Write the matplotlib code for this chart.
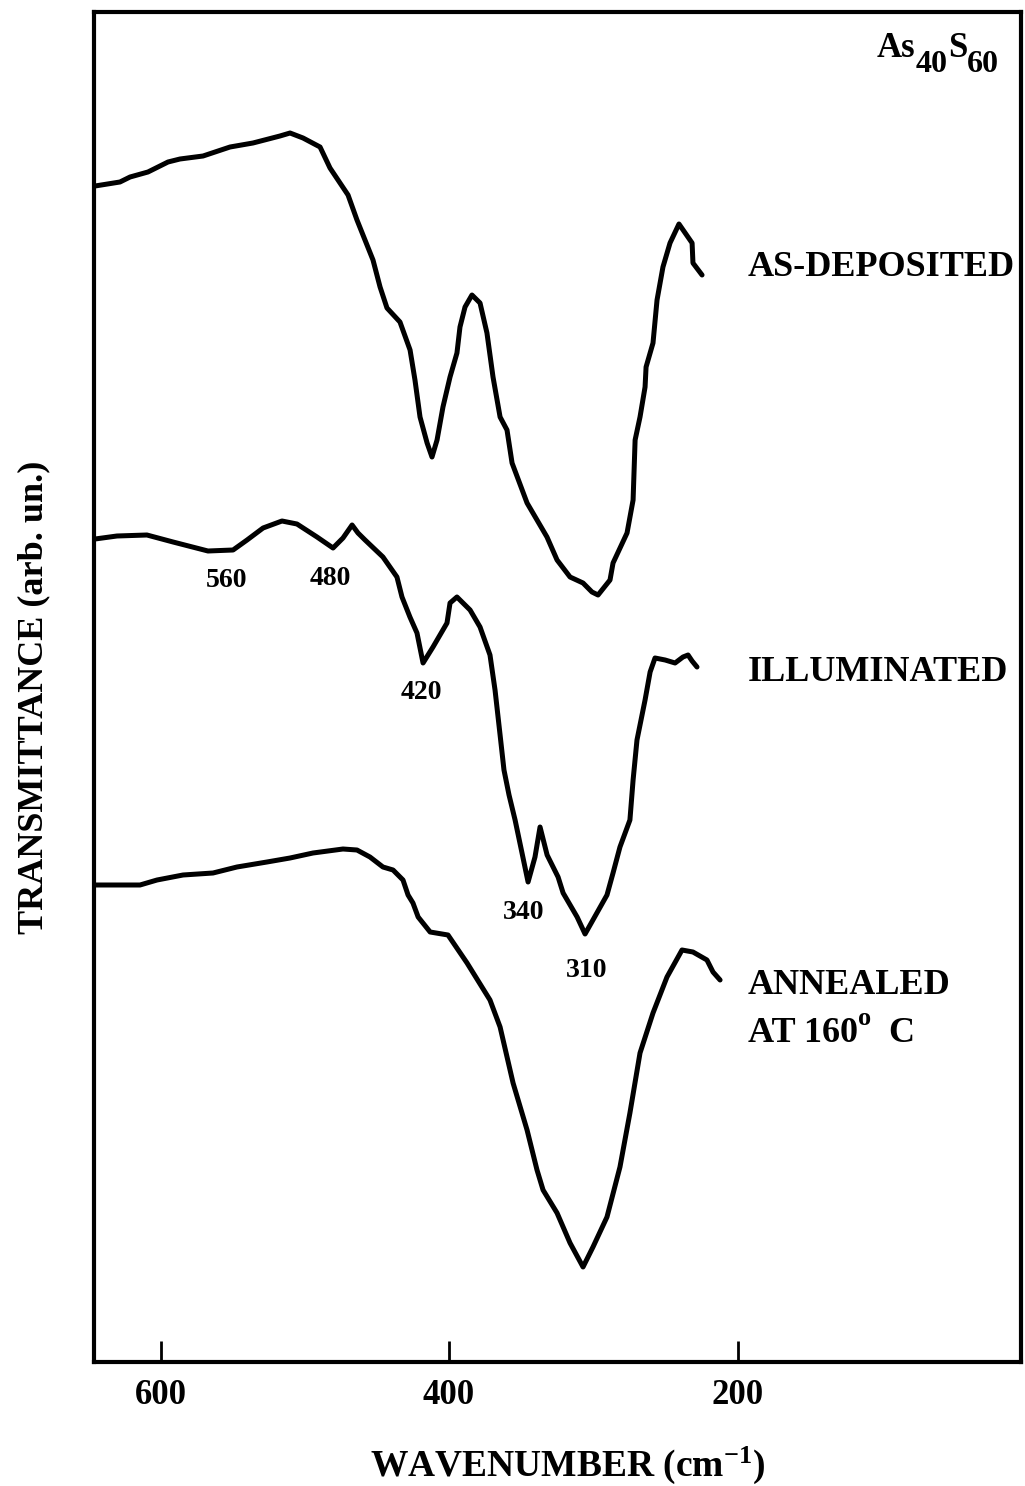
import matplotlib
matplotlib.use("Agg")
import matplotlib.pyplot as plt

plt.rcParams["font.family"] = ["Liberation Serif", "DejaVu Serif"]
plt.rcParams["font.weight"] = "bold"
plt.rcParams["mathtext.fontset"] = "custom"
plt.rcParams["mathtext.rm"] = "Liberation Serif:bold"
plt.rcParams["mathtext.bf"] = "Liberation Serif:bold"
plt.rcParams["mathtext.it"] = "Liberation Serif:bold"

# IR transmittance spectra of As40S60 films (wavenumber in cm^-1, transmittance in arb. units)
as_dep_wn = [645.4, 628.1, 621.1, 608.7, 594.8, 586.5, 570.5, 551.8, 535.9, 517.2,
             510.2, 501.2, 489.4, 482.5, 470.0, 463.8, 452.7, 447.8, 443.0, 434.0,
             427.0, 423.6, 420.1, 415.2, 411.8, 408.3, 404.2, 399.3, 394.5, 392.4,
             388.9, 384.1, 378.5, 373.7, 369.5, 364.6, 359.8, 356.3, 345.9, 332.1,
             325.1, 316.1, 307.1, 300.9, 296.7, 288.4, 286.3, 276.6, 272.4, 271.0,
             267.6, 264.1, 263.4, 258.6, 255.8, 251.7, 246.8, 240.6, 231.5, 230.9,
             224.6]
as_dep_t = [117.6, 118.0, 118.5, 119.0, 120.0, 120.3, 120.6, 121.5, 121.9, 122.6,
            122.9, 122.4, 121.5, 119.4, 116.7, 114.2, 110.2, 107.5, 105.4, 104.0,
            101.2, 98.2, 94.5, 91.9, 90.5, 92.2, 95.5, 98.5, 100.9, 103.5,
            105.5, 106.7, 105.9, 102.9, 98.5, 94.5, 93.2, 89.9, 85.9, 82.5,
            80.2, 78.5, 77.9, 77.0, 76.7, 78.2, 79.9, 82.9, 86.2, 92.2,
            94.5, 97.5, 99.5, 101.9, 106.2, 109.5, 111.9, 113.8, 111.9, 109.9,
            108.7]

illum_wn = [645.4, 630.2, 609.4, 591.3, 567.1, 549.7, 540.0, 528.9, 515.8, 505.4,
            491.5, 480.4, 473.5, 467.2, 463.1, 458.2, 445.8, 436.1, 432.6, 427.1,
            422.2, 418.0, 411.1, 401.4, 399.3, 394.5, 385.4, 378.5, 371.6, 368.1,
            364.6, 361.9, 358.4, 354.2, 349.4, 345.2, 340.4, 336.9, 332.0, 324.4,
            320.9, 311.2, 305.7, 290.5, 286.3, 281.5, 274.6, 272.4, 269.7, 264.1,
            260.6, 257.2, 250.2, 243.3, 237.8, 234.3, 231.5, 228.1]
illum_t = [82.3, 82.6, 82.7, 82.0, 81.1, 81.2, 82.2, 83.4, 84.1, 83.8,
           82.5, 81.4, 82.4, 83.7, 82.9, 82.2, 80.5, 78.5, 76.5, 74.5,
           72.9, 69.9, 71.5, 73.9, 75.9, 76.5, 75.2, 73.5, 70.7, 67.2,
           62.7, 59.2, 56.7, 54.2, 50.9, 48.0, 50.5, 53.5, 50.7, 48.5,
           46.9, 44.5, 42.8, 46.7, 48.9, 51.5, 54.2, 58.2, 62.2, 66.2,
           69.0, 70.4, 70.2, 69.9, 70.5, 70.7, 70.1, 69.5]

anneal_wn = [645.4, 630.2, 614.2, 602.4, 584.4, 563.6, 547.0, 526.2, 510.2, 494.3,
             473.5, 463.8, 454.8, 445.8, 438.8, 431.9, 428.4, 425.0, 421.4, 413.1,
             400.7, 387.5, 371.6, 364.6, 355.6, 345.9, 339.0, 334.8, 325.1, 316.1,
             307.1, 300.2, 290.5, 281.5, 274.6, 267.6, 258.6, 248.9, 238.5, 230.9,
             221.2, 217.0, 212.1]
anneal_t = [47.7, 47.7, 47.7, 48.2, 48.7, 48.9, 49.5, 50.0, 50.4, 50.9,
            51.3, 51.2, 50.5, 49.5, 49.2, 48.2, 46.7, 45.9, 44.5, 43.0,
            42.7, 39.9, 36.2, 33.5, 27.9, 23.2, 19.2, 17.2, 14.9, 11.9,
            9.5, 11.5, 14.5, 19.5, 24.9, 30.9, 34.9, 38.5, 41.2, 41.0,
            40.2, 39.0, 38.2]

# band positions marked on the illuminated spectrum and where their labels sit
band_labels = ["560", "480", "420", "340", "310"]
band_label_wn = [553.9, 482.5, 419.4, 348.0, 304.3]
band_label_t = [78.2, 78.4, 67.0, 45.0, 39.2]

x_ticks = [600, 400, 200]

fig = plt.figure(figsize=(10.25, 14.86), dpi=100)
ax = fig.add_axes([94 / 1025, 1 - 1362 / 1486, 927 / 1025, 1350 / 1486])

line_kw = dict(color="black", lw=3.6, solid_joinstyle="round", solid_capstyle="round")
ax.plot(as_dep_wn, as_dep_t, **line_kw)
ax.plot(illum_wn, illum_t, **line_kw)
ax.plot(anneal_wn, anneal_t, **line_kw)

ax.set_xlim(646.1, 3.5)
ax.set_ylim(0, 135)
ax.set_xticks(x_ticks)
ax.set_xticklabels([str(v) for v in x_ticks], fontsize=25, fontweight="bold")
ax.set_yticks([])
ax.tick_params(axis="x", direction="in", length=15, width=2, pad=12)
for sp in ax.spines.values():
    sp.set_linewidth(3)

for lab, wx, ty in zip(band_labels, band_label_wn, band_label_t):
    ax.text(wx, ty, lab, fontsize=20, fontweight="bold", ha="center", va="center")

label_kw = dict(fontsize=26, fontweight="bold", ha="left", va="center")
ax.text(192.7, 109.4, "AS-DEPOSITED", **label_kw)
ax.text(192.7, 69.0, "ILLUMINATED", **label_kw)
ax.text(192.7, 37.7, "ANNEALED", **label_kw)

# "AT 160° C" with a raised degree mark
t_at = ax.text(192.7, 32.9, "AT 160", **label_kw)
t_deg = ax.annotate("o", xy=(1.0, 0.93), xycoords=t_at, fontsize=19, fontweight="bold",
                    ha="left", va="center")
ax.annotate("  C", xy=(1.0, 0.0), xycoords=(t_deg, t_at), fontsize=26, fontweight="bold",
            ha="left", va="bottom")

# composition As40S60 with large, deeply dropped subscripts
t_as = ax.text(103.3, 130.5, "As", fontsize=25, fontweight="bold", ha="left", va="baseline")
t_40 = ax.annotate("40", xy=(1.0, 0.0), xycoords=t_as, fontsize=23, fontweight="bold",
                   ha="left", va="center")
t_s = ax.annotate("S", xy=(1.0, 0.0), xycoords=(t_40, t_as), fontsize=25, fontweight="bold",
                  ha="left", va="bottom")
ax.annotate("60", xy=(1.0, 0.0), xycoords=t_s, fontsize=23, fontweight="bold",
            ha="left", va="center")

ax.set_xlabel(r"WAVENUMBER (cm$^{\mathbf{-1}}$)", fontsize=27, fontweight="bold")
ax.xaxis.set_label_coords(0.511, -0.0615)
ax.set_ylabel("TRANSMITTANCE (arb. un.)", fontsize=26, fontweight="bold")
ax.yaxis.set_label_coords(-0.047, 0.4926)

fig.savefig("out.png", dpi=100)
